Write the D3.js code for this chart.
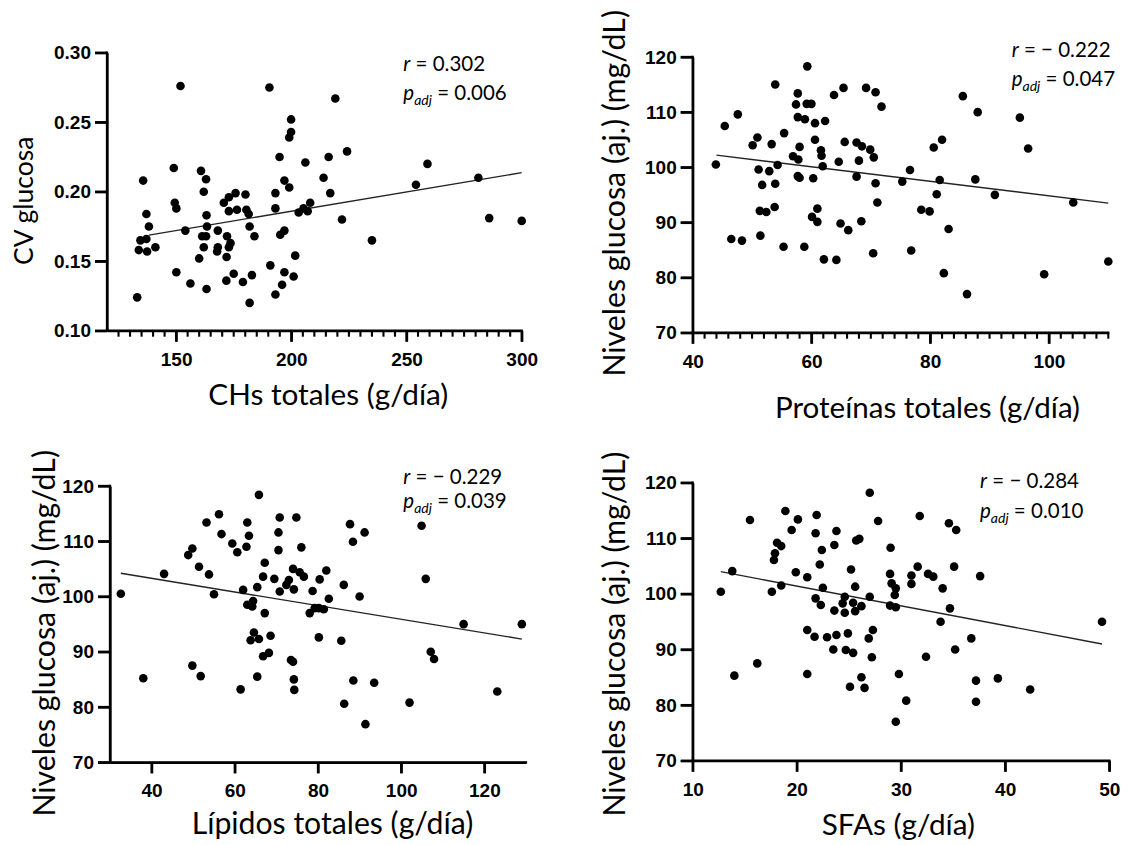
<!DOCTYPE html>
<html><head><meta charset="utf-8">
<script src="https://cdn.jsdelivr.net/npm/d3@7"></script>
<style>body{margin:0;background:#fff}svg{display:block}</style>
</head><body>
<svg id="c" width="1131" height="845"></svg>
<script>
// ---------- DATA ----------
const chsCv = [[151.9,0.276],[135.7,0.208],[137.1,0.184],[138.2,0.175],[134.5,0.165],[137.1,0.166],[133.8,0.158],[137.4,0.157],[141.0,0.160],[133.1,0.124],
[149.0,0.217],[149.4,0.192],[150.1,0.188],[150.1,0.142],[154.0,0.172],[156.2,0.134],[160.8,0.215],[163.0,0.209],[162.0,0.200],[163.2,0.183],
[163.4,0.175],[161.3,0.168],[163.0,0.168],[162.0,0.160],[160.0,0.152],[163.2,0.130],[168.1,0.172],[168.1,0.160],[167.8,0.157],[170.7,0.192],
[172.9,0.196],[172.9,0.186],[175.8,0.199],[176.4,0.187],[172.1,0.168],[173.6,0.163],[172.9,0.160],[171.9,0.153],[175.0,0.141],[171.8,0.136],
[180.1,0.198],[180.5,0.187],[181.5,0.184],[181.9,0.175],[184.0,0.168],[179.0,0.135],[182.9,0.140],[181.9,0.120],
[190.5,0.275],[219.1,0.267],[199.9,0.252],[199.9,0.243],[199.1,0.239],[194.9,0.225],[224.2,0.229],[206.1,0.221],[216.2,0.225],[259.1,0.220],
[214.0,0.210],[197.0,0.208],[199.1,0.203],[254.1,0.205],[281.2,0.210],[193.1,0.199],[216.9,0.199],[193.1,0.188],[203.2,0.185],[205.3,0.188],
[207.1,0.186],[208.2,0.192],[222.0,0.180],[285.9,0.181],[300.0,0.179],[235.0,0.165],[197.0,0.172],[195.2,0.169],[190.9,0.147],[201.7,0.154],
[197.0,0.142],[201.0,0.139],[196.0,0.133],[193.1,0.126]];

const protGlu = [[43.9,100.5],[45.4,107.5],[47.6,109.6],[46.5,87.0],[48.3,86.7],[50.1,104.0],[50.9,105.4],[53.3,104.2],[51.1,99.6],[52.9,99.3],
[51.7,96.8],[53.9,97.0],[54.3,100.4],[53.9,115.0],[55.4,106.2],[51.3,92.1],[52.4,91.9],[53.8,92.8],[51.4,87.6],[55.3,85.6],
[58.8,85.6],[57.7,113.4],[57.4,111.4],[59.2,111.5],[60.0,111.5],[59.3,118.3],[57.7,109.1],[58.9,108.7],[60.6,108.0],[62.3,108.4],
[60.6,105.0],[58.0,103.7],[56.9,102.0],[57.8,101.4],[57.7,98.4],[58.0,98.1],[60.3,98.0],[61.6,103.1],[61.7,102.1],[61.9,100.2],
[61.0,92.5],[60.1,91.0],[61.0,90.1],[62.1,83.3],[64.2,83.2],[64.6,101.0],[65.6,104.6],[64.9,89.8],[66.2,88.6],[63.8,113.1],[65.4,114.4],
[69.2,114.4],[70.8,113.6],[71.8,111.0],[67.6,104.5],[68.5,103.8],[69.9,103.2],[70.5,101.8],[68.0,101.2],[67.6,98.3],[70.8,97.1],
[71.1,93.6],[68.4,90.2],[70.4,84.4],[75.3,97.4],[76.6,99.5],[76.8,84.9],[78.5,92.3],[79.9,92.0],[80.6,103.6],[82.0,105.0],
[81.6,97.7],[81.1,95.1],[83.1,88.8],[82.3,80.8],[86.2,77.0],[85.5,112.9],[88.0,110.0],[87.6,97.8],[90.9,95.0],[95.1,109.0],
[96.5,103.4],[104.1,93.6],[99.2,80.6],[110.0,82.9]];

const lipGlu = [[32.6,100.5],[38.0,85.2],[43.0,104.1],[48.8,107.5],[49.8,108.7],[51.4,105.4],[53.2,113.4],[53.8,104.0],[55.0,100.4],[56.2,114.9],
[56.8,111.3],[49.8,87.5],[51.8,85.6],[59.4,109.6],[60.6,108.0],[61.4,83.2],[63.0,113.4],[63.4,111.0],[62.8,109.0],[65.8,118.4],
[62.0,101.2],[63.0,98.5],[64.2,98.2],[64.4,99.2],[65.4,101.7],[67.2,106.1],[66.8,103.6],[67.2,97.0],[64.6,93.5],[63.8,92.1],
[65.8,92.3],[68.6,92.9],[66.8,89.2],[68.2,89.8],[65.4,85.5],
[70.8,114.3],[74.8,114.3],[70.5,111.6],[70.5,108.4],[76.0,108.9],[69.5,103.2],[70.8,100.9],[74.0,105.0],[75.6,104.4],[76.6,103.6],
[73.0,103.0],[72.4,102.1],[74.2,101.3],[78.7,101.0],[80.4,103.1],[82.0,104.7],[82.6,99.6],[81.4,97.7],[80.2,97.9],[79.2,97.9],
[78.0,97.0],[86.2,102.1],[87.7,113.1],[88.4,109.9],[91.2,111.6],[90.0,100.0],[80.2,92.6],[85.6,92.0],[73.5,88.5],[74.0,88.2],
[74.2,85.0],[74.3,83.1],[88.5,84.8],[93.5,84.4],[86.3,80.6],[91.4,76.9],[102.0,80.8],[104.9,112.8],[105.9,103.2],[107.1,90.0],
[107.9,88.7],[115.0,95.0],[123.1,82.8],[129.0,95.0]];

const sfaGlu = [[12.7,100.4],[13.8,104.1],[14.0,85.3],[15.5,113.3],[16.2,87.5],[17.6,100.4],[17.8,106.1],[17.9,107.3],[18.1,109.2],[18.5,108.6],
[18.5,101.5],[18.9,114.9],[19.5,111.5],[20.1,113.4],[19.9,103.9],[21.0,103.0],[21.9,114.2],[21.8,110.9],[22.4,107.9],[22.2,105.3],
[22.5,101.1],[21.8,99.2],[22.3,98.0],[21.0,93.5],[21.7,92.3],[22.9,92.2],[23.8,92.6],[23.8,111.3],[23.6,108.8],[23.6,97.0],
[23.5,90.0],[21.0,85.6],[24.4,98.3],
[27.0,118.2],[27.8,113.1],[31.8,114.0],[34.6,112.7],[35.3,111.5],[25.7,109.6],[26.0,109.9],[29.0,108.3],[25.2,104.4],[31.6,104.9],
[28.95,103.6],[31.0,103.3],[31.0,101.8],[29.1,101.9],[29.5,101.0],[29.4,99.8],[32.6,103.6],[33.1,103.1],[35.1,104.9],[37.6,103.2],
[34.0,101.0],[25.6,101.3],[27.0,99.5],[24.6,99.5],[25.4,98.4],[26.2,97.8],[25.6,96.9],[24.6,96.6],[28.95,97.9],[29.5,97.6],
[34.7,97.4],[33.8,95.0],[49.3,95.0],[24.9,92.9],[27.3,93.5],[26.9,92.0],[24.7,89.9],[25.4,89.4],[27.2,88.6],[32.4,88.7],
[35.2,90.0],[36.75,92.0],[29.8,85.6],[26.2,85.0],[25.1,83.3],[26.5,83.1],[30.5,80.8],[37.2,84.4],[39.3,84.8],[37.2,80.6],
[42.4,82.8],[29.5,77.0]];

// fitted lines (end points)
const chsFit = [[138.2,0.1688],[300,0.2137]];
const protFit = [[44.0,102.2],[110,93.5]];
const lipFit = [[32.6,104.2],[129.0,92.3]];
const sfaFit = [[12.7,104.0],[49.3,91.0]];

// tick values
const chsTicks = [150,200,250,300];
const chsMinor = [125,130,135,140,145,155,160,165,170,175,180,185,190,195,205,210,215,220,225,230,235,240,245,255,260,265,270,275,280,285,290,295];
const cvTicks = [0.10,0.15,0.20,0.25,0.30];
const protTicks = [40,60,80,100];
const protMinor = [42,44,46,48,50,52,54,56,58,62,64,66,68,70,72,74,76,78,82,84,86,88,90,92,94,96,98,102,104,106,108,110];
const lipTicks = [40,60,80,100,120];
const sfaTicks = [10,20,30,40,50];
const gluTicks = [70,80,90,100,110,120];

// texts
const xTitles = ["CHs totales (g/día)","Proteínas totales (g/día)","Lípidos totales (g/día)","SFAs (g/día)"];
const yTitles = ["CV glucosa","Niveles glucosa (aj.) (mg/dL)","Niveles glucosa (aj.) (mg/dL)","Niveles glucosa (aj.) (mg/dL)"];
const rVals = ["0.302","\u2212 0.222","\u2212 0.229","\u2212 0.284"];
const pVals = ["0.006","0.047","0.039","0.010"];

// ---------- LAYOUT ----------
const panels = [
 {data:chsCv, fit:chsFit, xDom:[120,300], yDom:[0.10,0.30], xR:[107,521.7], yR:[330.7,52.7], xT:chsTicks, xM:chsMinor, yT:cvTicks, yF:d3.format(".2f"),
  xt:{cx:328.3,by:405,w:240}, yt:{bx:33.3,cy:200.8,w:128.3}, ann:{x:403.3,b1:71,b2:100}},
 {data:protGlu, fit:protFit, xDom:[40,110], yDom:[70,120], xR:[692.7,1108.3], yR:[332.7,57], xT:protTicks, xM:protMinor, yT:gluTicks, yF:d3.format("d"),
  xt:{cx:927.5,by:417.5,w:305}, yt:{bx:625,cy:193.3,w:366.7}, ann:{x:1011.7,b1:57.3,b2:86}},
 {data:lipGlu, fit:lipFit, xDom:[30,130], yDom:[70,120], xR:[110,526], yR:[762.3,486], xT:lipTicks, xM:[], yT:gluTicks, yF:d3.format("d"),
  xt:{cx:332.5,by:834.3,w:281.6}, yt:{bx:55,cy:633.3,w:366.7}, ann:{x:403.3,b1:483.5,b2:508}},
 {data:sfaGlu, fit:sfaFit, xDom:[10,50], yDom:[70,120], xR:[692.7,1109.3], yR:[760.7,482.7], xT:sfaTicks, xM:[], yT:gluTicks, yF:d3.format("d"),
  xt:{cx:898.3,by:835,w:153.3}, yt:{bx:625,cy:634.2,w:365}, ann:{x:980,b1:488.3,b2:518.3}}
];

const svg = d3.select("#c");
const TF = "Lato, 'Open Sans', sans-serif";
const NF = "'Liberation Sans', Arial, sans-serif";
const AW = 2.3;

function fitW(sel, w){
  const cur = sel.node().getComputedTextLength();
  const fs = parseFloat(sel.attr("font-size"));
  if (cur > 0) sel.attr("font-size", (fs*w/cur).toFixed(2));
}

panels.forEach((p,i)=>{
  const xs = d3.scaleLinear().domain(p.xDom).range(p.xR);
  const ys = d3.scaleLinear().domain(p.yDom).range(p.yR);
  const g = svg.append("g");

  // axis labels via d3 axes
  const gx = g.append("g").attr("transform",`translate(0,${p.yR[0]})`)
    .call(d3.axisBottom(xs).tickValues(p.xT).tickSize(11).tickSizeOuter(0).tickPadding(10.5).tickFormat(d3.format("d")));
  const gy = g.append("g").attr("transform",`translate(${p.xR[0]},0)`)
    .call(d3.axisLeft(ys).tickValues(p.yT).tickSize(12).tickSizeOuter(0).tickPadding(4).tickFormat(p.yF));
  [gx,gy].forEach(a=>{
    a.attr("font-size",19).attr("font-family",NF).attr("font-weight","bold");
    a.selectAll(".domain").attr("stroke","#000").attr("stroke-width",AW);
    a.selectAll(".tick line").attr("stroke","#000").attr("stroke-width",AW);
    a.selectAll(".tick text").attr("fill","#000");
  });

  // frame lines drawn as plain lines at scale positions
  const fr = g.append("g").attr("stroke","#000");
  const x0 = xs.range()[0], x1 = xs.range()[1], y0 = ys.range()[0], y1 = ys.range()[1];
  fr.append("line").attr("x1",x0-AW/2).attr("x2",x1+AW/2).attr("y1",y0).attr("y2",y0).attr("stroke-width",AW);
  fr.append("line").attr("x1",x0).attr("x2",x0).attr("y1",y0+AW/2).attr("y2",y1-AW/2).attr("stroke-width",AW);
  fr.selectAll("line.xmaj").data(p.xT).join("line").attr("class","xmaj")
    .attr("x1",d=>xs(d)).attr("x2",d=>xs(d)).attr("y1",y0).attr("y2",y0+11).attr("stroke-width",AW);
  fr.selectAll("line.xmin").data(p.xM).join("line").attr("class","xmin")
    .attr("x1",d=>xs(d)).attr("x2",d=>xs(d)).attr("y1",y0).attr("y2",y0+6).attr("stroke-width",2.1);
  fr.selectAll("line.ymaj").data(p.yT).join("line").attr("class","ymaj")
    .attr("x1",x0-12).attr("x2",x0).attr("y1",d=>ys(d)).attr("y2",d=>ys(d)).attr("stroke-width",AW);

  // fitted line
  g.append("line")
    .attr("x1",xs(p.fit[0][0])).attr("y1",ys(p.fit[0][1]))
    .attr("x2",xs(p.fit[1][0])).attr("y2",ys(p.fit[1][1]))
    .attr("stroke","#222").attr("stroke-width",1.4);

  // points
  g.append("g").selectAll("circle").data(p.data).join("circle")
    .attr("cx",d=>xs(d[0])).attr("cy",d=>ys(d[1])).attr("r",4.3).attr("fill","#000");

  // x title
  const xt = g.append("text").attr("x",p.xt.cx).attr("y",p.xt.by).attr("text-anchor","middle")
    .attr("font-family",TF).attr("font-size",28).attr("fill","#000").text(xTitles[i]);
  fitW(xt,p.xt.w);
  // y title
  const yt = g.append("text").attr("transform",`translate(${p.yt.bx},${p.yt.cy}) rotate(-90)`).attr("text-anchor","middle")
    .attr("font-family",TF).attr("font-size",28).attr("fill","#000").text(yTitles[i]);
  fitW(yt,p.yt.w);

  // annotations
  const a1 = g.append("text").attr("x",p.ann.x).attr("y",p.ann.b1).attr("font-family",TF).attr("font-size",20.5).attr("fill","#000");
  a1.append("tspan").attr("font-style","italic").text("r");
  a1.append("tspan").text(" = " + rVals[i]);
  const a2 = g.append("text").attr("x",p.ann.x).attr("y",p.ann.b2).attr("font-family",TF).attr("font-size",20.5).attr("fill","#000");
  a2.append("tspan").attr("font-style","italic").text("p");
  a2.append("tspan").attr("font-style","italic").attr("font-size",14).attr("dy",5).text("adj");
  a2.append("tspan").attr("dy",-5).text(" = " + pVals[i]);
});
</script>
</body></html>
